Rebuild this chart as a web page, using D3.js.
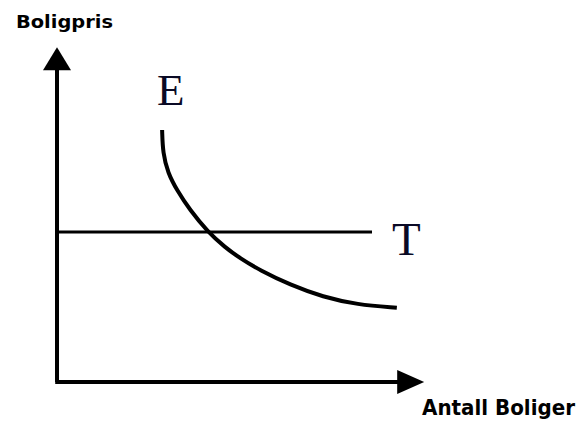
<!DOCTYPE html>
<html>
<head>
<meta charset="utf-8">
<script src="https://cdn.jsdelivr.net/npm/d3@7"></script>
<style>
  body { margin: 0; background: #fff; }
  svg { display: block; }
</style>
</head>
<body>
<script>
// data (units: 0-100 on both axes)
let curveE = [
  [29.2, 70], [29.4, 63.6], [30.8, 58.1], [33.3, 53.3], [36.9, 47.8],
  [41.9, 41.7], [46.7, 37.4], [50.8, 34.4], [56.4, 31.0], [64.7, 27.0],
  [73.9, 23.6], [83.3, 21.5], [94.4, 20.6]
];
let lineT = [[0, 41.7], [87.5, 41.7]];
let axisEnds = { x: 102, y: 93 };
let labels = { y: "Boligpris", x: "Antall Boliger", e: "E", t: "T" };

let width = 583, height = 421;

let svg = d3.select("body").append("svg")
  .attr("width", width)
  .attr("height", height);

let x = d3.scaleLinear().domain([0, 100]).range([57, 417]);
let y = d3.scaleLinear().domain([0, 100]).range([382, 22]);

let line = d3.line()
  .x(d => x(d[0]))
  .y(d => y(d[1]));

// axes
svg.append("path")
  .attr("d", line([[0, 0], [0, axisEnds.y - 5]]))
  .attr("stroke", "#000")
  .attr("stroke-width", 4)
  .attr("fill", "none");

svg.append("path")
  .attr("d", line([[-0.5, 0], [axisEnds.x - 6, 0]]))
  .attr("stroke", "#000")
  .attr("stroke-width", 4)
  .attr("fill", "none");

// arrow heads
let tipY = [x(0), y(axisEnds.y)];
svg.append("path")
  .attr("d", `M${tipY[0]},${tipY[1]} L${tipY[0] + 14},${tipY[1] + 23} L${tipY[0] - 14},${tipY[1] + 23} Z`)
  .attr("fill", "#000");

let tipX = [x(axisEnds.x), y(0)];
svg.append("path")
  .attr("d", `M${tipX[0]},${tipX[1]} L${tipX[0] - 27},${tipX[1] - 12} L${tipX[0] - 27},${tipX[1] + 12} Z`)
  .attr("fill", "#000");

// T line
svg.append("path")
  .attr("d", line(lineT))
  .attr("stroke", "#000")
  .attr("stroke-width", 3)
  .attr("fill", "none");

// E curve
svg.append("path")
  .attr("d", line.curve(d3.curveBasis)(curveE))
  .attr("stroke", "#000")
  .attr("stroke-width", 4)
  .attr("fill", "none");

// labels
svg.append("text")
  .attr("x", 16)
  .attr("y", 28)
  .attr("textLength", 97)
  .attr("lengthAdjust", "spacingAndGlyphs")
  .style("font-family", "DejaVu Sans")
  .style("font-weight", "bold")
  .style("font-size", "18px")
  .text(labels.y);

svg.append("text")
  .attr("x", 422)
  .attr("y", 415)
  .attr("textLength", 153)
  .attr("lengthAdjust", "spacingAndGlyphs")
  .style("font-family", "DejaVu Sans")
  .style("font-weight", "bold")
  .style("font-size", "21px")
  .text(labels.x);

svg.append("text")
  .attr("x", 157)
  .attr("y", 105)
  .attr("fill", "#0a0a25")
  .style("font-family", "Liberation Serif")
  .style("font-size", "45px")
  .text(labels.e);

svg.append("text")
  .attr("x", 392)
  .attr("y", 255)
  .attr("fill", "#0a0a25")
  .style("font-family", "Liberation Serif")
  .style("font-size", "47px")
  .text(labels.t);
</script>
</body>
</html>
